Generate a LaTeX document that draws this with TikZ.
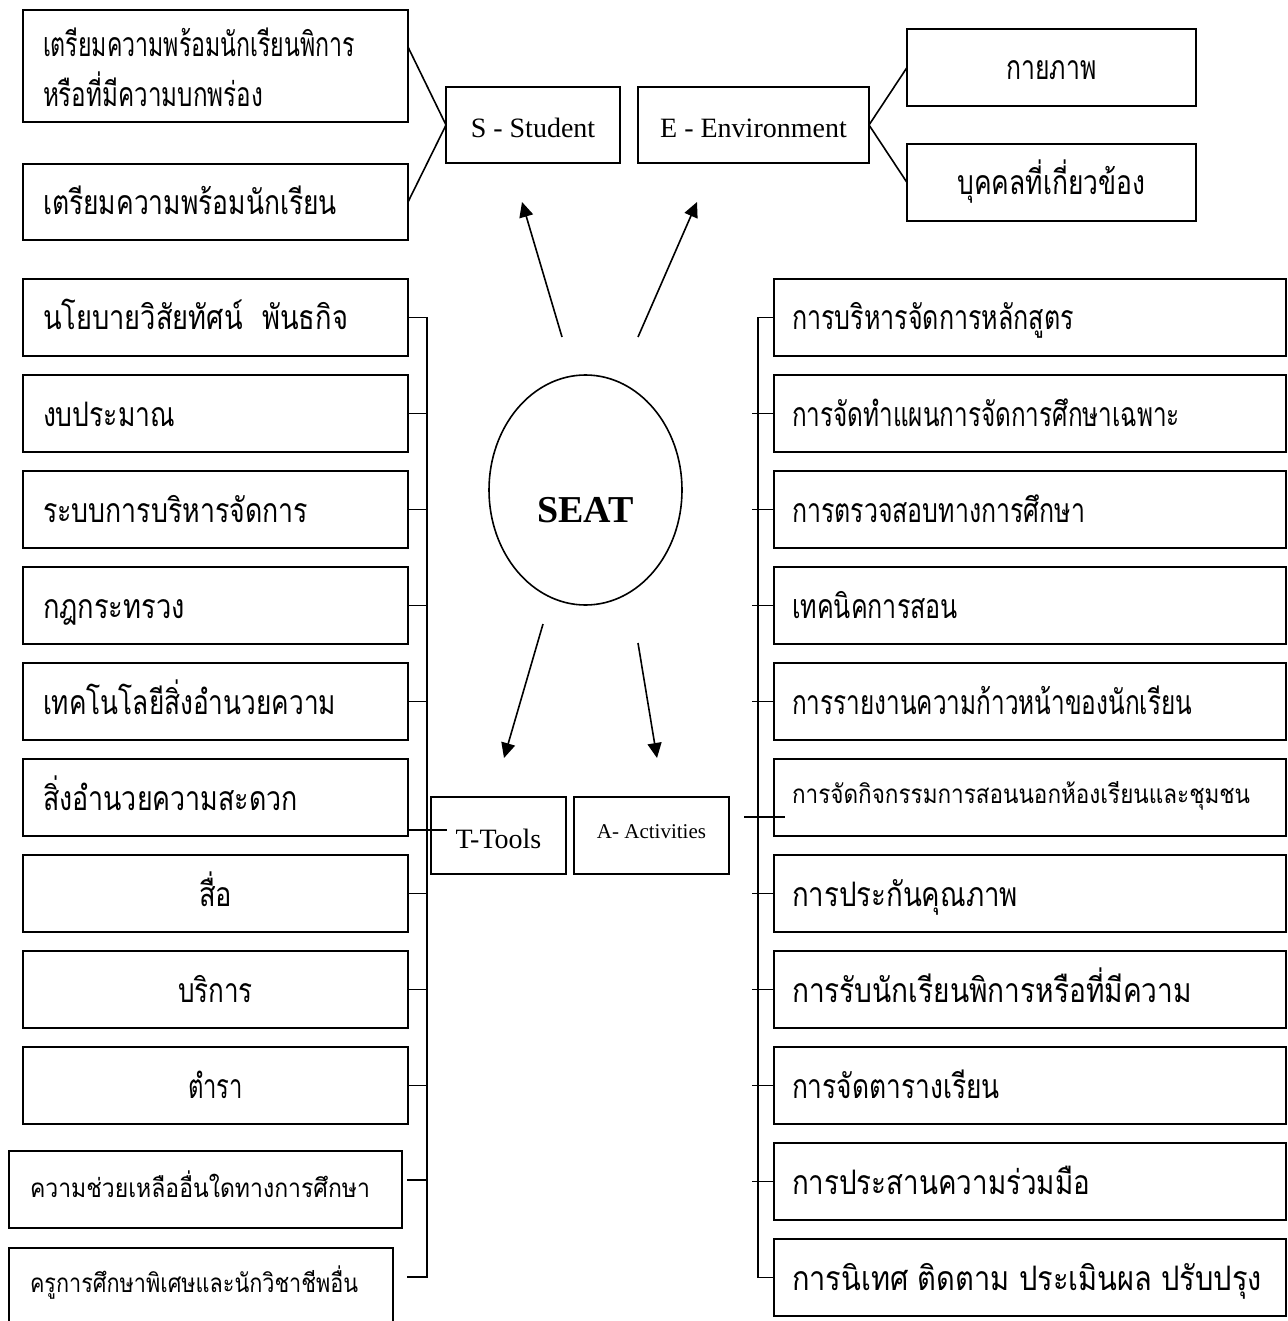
\documentclass[tikz,border=0pt]{standalone}
\usepackage{fontspec}
\usepackage{graphicx}
\setmainfont{Liberation Serif}
\usetikzlibrary{arrows.meta,shapes.geometric,calc}
\newfontfamily\thaifont[Script=Thai]{Loma}
\newcommand\thB{\fontsize{25}{50}\thaifont}
\newcommand\thS{\fontsize{20}{36}\thaifont}
\newcommand\TB[2]{\resizebox{#1pt}{1.35\height}{\thB #2}}
\newcommand\TS[2]{\resizebox{#1pt}{1.3\height}{\thS #2}}
\tikzset{
  ln/.style={line width=1.6pt},
  arr/.style={line width=1.6pt,-{Triangle[length=15pt,width=14pt]}},
  bx/.style={draw,line width=1.6pt,inner ysep=0pt,outer sep=0pt,anchor=north west},
  lb/.style={bx,minimum width=385pt,minimum height=77pt,inner xsep=20pt,text width=345pt,align=left,text height=30pt,text depth=5pt},
  lbc/.style={lb,align=center},
  rb/.style={bx,minimum width=512pt,minimum height=77pt,inner xsep=18pt,text width=476pt,align=left,text height=30pt,text depth=5pt},
  lat/.style={font=\fontsize{28}{34}\selectfont},
}
\begin{document}
\begin{tikzpicture}[x=1pt,y=-1pt]
\useasboundingbox (0,0) rectangle (1287,1321);
% top: student
\node[bx,font=\thB,minimum width=385pt,minimum height=112pt,inner xsep=20pt,text width=345pt,align=left,text height=27pt,text depth=45pt] (sa) at (23,10) {\TB{312}{เตรียมความพร้อมนักเรียนพิการ}\\\TB{220}{หรือที่มีความบกพร่อง}};
\node[lb,minimum height=76pt] (sb) at (23,164) {\TB{294}{เตรียมความพร้อมนักเรียน}};
\node[bx,lat,minimum width=174pt,minimum height=76pt,text height=28pt,text depth=2pt] (ss) at (446,87) {S - Student};
\node[bx,lat,minimum width=231pt,minimum height=76pt,text height=28pt,text depth=2pt] (se) at (638,87) {E - Environment};
\node[bx,minimum width=289pt,minimum height=77pt,text height=30pt,text depth=5pt] (e1) at (907,29) {\TB{90}{กายภาพ}};
\node[bx,minimum width=289pt,minimum height=77pt,text height=30pt,text depth=5pt] (e2) at (907,144) {\TB{188}{บุคคลที่เกี่ยวข้อง}};
\draw[ln] ([yshift=-37pt]sa.north east) -- (ss.west) -- (sb.east);
\draw[ln] (e1.west) -- (se.east) -- (e2.west);
% centre
\node[draw,ellipse,line width=1.6pt,minimum width=193pt,minimum height=230pt,inner sep=0pt,font=\bfseries\fontsize{38}{40}\selectfont,text height=64pt,text depth=0pt] (seat) at (585.5,490) {SEAT};
\node[bx,lat,minimum width=135pt,minimum height=77pt,text height=27pt,text depth=2pt] (tt) at (431,797) {T-Tools};
\node[bx,font=\fontsize{21}{25}\selectfont,minimum width=155pt,minimum height=77pt,text height=17pt,text depth=12pt] (aa) at (574,797) {A- Activities};
\coordinate (s0) at (562,337); \coordinate (s1) at (522,202);
\coordinate (e0) at (638,337); \coordinate (ee1) at (697,202);
\coordinate (t0) at (543,624); \coordinate (t1) at (504,758);
\coordinate (a0) at (638,643); \coordinate (a1) at (657,758);
\draw[arr] (s0) -- (s1);
\draw[arr] (e0) -- (ee1);
\draw[arr] (t0) -- (t1);
\draw[arr] (a0) -- (a1);
% left column (tools)
\node[lb] (l1) at (23,279) {\TB{305}{นโยบายวิสัยทัศน์\hspace{18pt}พันธกิจ}};
\node[lb] (l2) at (23,375) {\TB{132}{งบประมาณ}};
\node[lb] (l3) at (23,471) {\TB{265}{ระบบการบริหารจัดการ}};
\node[lb] (l4) at (23,567) {\TB{142}{กฎกระทรวง}};
\node[lb] (l5) at (23,663) {\TB{293}{เทคโนโลยีสิ่งอำนวยความ}};
\node[lb] (l6) at (23,759) {\TB{255}{สิ่งอำนวยความสะดวก}};
\node[lbc] (l7) at (23,855) {\TB{33}{สื่อ}};
\node[lbc] (l8) at (23,951) {\TB{75}{บริการ}};
\node[lbc] (l9) at (23,1047) {\TB{55}{ตำรา}};
\node[lb,minimum width=393pt,inner xsep=21pt,text width=351pt,text height=20pt,text depth=5pt] (l10) at (9,1151) {\TS{340}{ความช่วยเหลืออื่นใดทางการศึกษา}};
\node[lb,minimum width=384pt,inner xsep=21pt,text width=342pt,text height=18pt,text depth=7pt] (l11) at (9,1248) {\TS{328}{ครูการศึกษาพิเศษและนักวิชาชีพอื่น}};
\coordinate (lt) at (427,317.5);
\coordinate (lbt) at (427,1277);
\draw[ln] (l1.east) -- (lt) -- (lbt) -- ([xshift=14pt,yshift=9.5pt]l11.east);
\foreach \k in {2,3,4,5,7,8,9}{\draw[ln] (l\k.east) -- (l\k.east -| lt);}
\draw[ln] ([xshift=5pt,yshift=9.5pt]l10.east) -- ([yshift=9.5pt]l10.east -| lt);
\draw[ln] ([yshift=6pt]l6.south east) -- ([yshift=6pt]l6.south east -| tt.west) -- ++(16,0);
% right column (activities)
\node[rb] (r1) at (774,279) {\TB{282}{การบริหารจัดการหลักสูตร}};
\node[rb] (r2) at (774,375) {\TB{388}{การจัดทำแผนการจัดการศึกษาเฉพาะ}};
\node[rb] (r3) at (774,471) {\TB{293}{การตรวจสอบทางการศึกษา}};
\node[rb] (r4) at (774,567) {\TB{166}{เทคนิคการสอน}};
\node[rb] (r5) at (774,663) {\TB{400}{การรายงานความก้าวหน้าของนักเรียน}};
\node[rb,text height=18pt,text depth=7pt] (r6) at (774,759) {\TS{458}{การจัดกิจกรรมการสอนนอกห้องเรียนและชุมชน}};
\node[rb] (r7) at (774,855) {\TB{226}{การประกันคุณภาพ}};
\node[rb] (r8) at (774,951) {\TB{400}{การรับนักเรียนพิการหรือที่มีความ}};
\node[rb] (r9) at (774,1047) {\TB{208}{การจัดตารางเรียน}};
\node[rb] (r10) at (774,1143) {\TB{298}{การประสานความร่วมมือ}};
\node[rb] (r11) at (774,1239) {\TB{470}{การนิเทศ\hspace{8pt}ติดตาม\hspace{8pt}ประเมินผล\hspace{8pt}ปรับปรุง}};
\coordinate (rt) at (758,317.5);
\coordinate (rbt) at (758,1277.5);
\draw[ln] (r1.west) -- (rt) -- (rbt) -- (r11.west);
\foreach \k in {2,3,4,5,7,8,9,10}{\draw[ln] ($(r\k.west -| rt)+(-6,0)$) -- (r\k.west);}
\draw[ln] ($(aa.east)+(15,-18.5)$) -- ($(r6.west)+(11,19.5)$);
\end{tikzpicture}
\end{document}
